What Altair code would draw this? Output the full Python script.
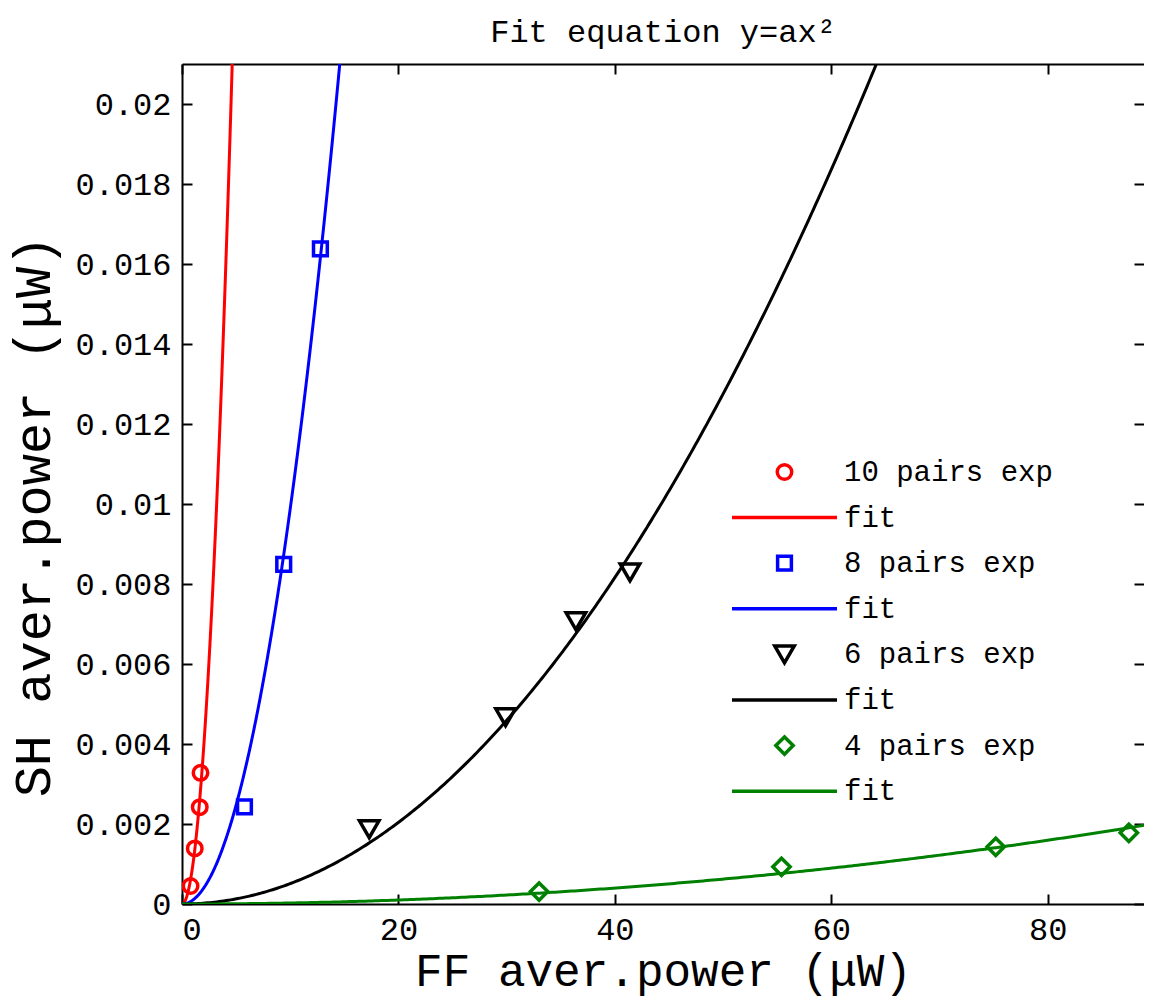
import altair as alt
import numpy as np
import pandas as pd

# ---- data ----
exp_names = ["10 pairs exp", "8 pairs exp", "6 pairs exp", "4 pairs exp"]
fit_names = ["fit", "fit ", "fit  ", "fit   "]  # all shown as "fit" in legend
colors = ["#ff0000", "#0000ff", "#000000", "#008000"]
shapes = ["circle", "square", "triangle-down", "diamond"]

ff_10 = [0.79, 1.18, 1.64, 1.71]
sh_10 = [0.00045, 0.00139, 0.00242, 0.00328]
ff_8 = [5.77, 9.40, 12.79]
sh_8 = [0.00243, 0.00849, 0.01638]
ff_6 = [17.3, 29.9, 36.4, 41.4]
sh_6 = [0.00187, 0.00467, 0.00707, 0.00829]
ff_4 = [33.0, 55.4, 75.2, 87.5]
sh_4 = [0.00031, 0.00093, 0.00143, 0.00178]

# fitted coefficients a of y = a x^2
fit_a = [9.75e-4, 9.88e-5, 5.10e-6, 2.49e-7]

x_ticks = [0, 20, 40, 60, 80]
y_ticks = [0, 0.002, 0.004, 0.006, 0.008, 0.01, 0.012, 0.014, 0.016, 0.018, 0.02]
x_max = 88.9
y_max = 0.021

# ---- tables ----
pts = []
for name, xs, ys in zip(exp_names, [ff_10, ff_8, ff_6, ff_4], [sh_10, sh_8, sh_6, sh_4]):
    for xv, yv in zip(xs, ys):
        pts.append({"series": name, "ff": xv, "sh": yv})
pts_df = pd.DataFrame(pts)

fits = []
for name, a in zip(fit_names, fit_a):
    xe = min(np.sqrt(y_max / a), x_max)
    for xv in np.linspace(0, xe, 300):
        fits.append({"series": name, "ff": float(xv), "sh": float(a * xv * xv)})
fit_df = pd.DataFrame(fits)

legend_domain = []
color_range = []
shape_range = []
size_range = []
LINE = "M-1,0L1,0"
sym_sizes = [210, 190, 380, 300]
for i in range(4):
    legend_domain += [exp_names[i], fit_names[i]]
    color_range += [colors[i], colors[i]]
    shape_range += [shapes[i], LINE]
    size_range += [sym_sizes[i], 11025]

FONT = "Liberation Mono"
inward = {"expr": "-10"}

x_scale = alt.Scale(domain=[0, x_max], nice=False, zero=False)
y_scale = alt.Scale(domain=[0, y_max], nice=False, zero=False)
color_scale = alt.Scale(domain=legend_domain, range=color_range)
shape_scale = alt.Scale(type="ordinal", domain=legend_domain, range=shape_range)
size_scale = alt.Scale(type="ordinal", domain=legend_domain, range=size_range)

legend = alt.Legend(
    title=None, orient="none", legendX=548, legendY=393,
    clipHeight=30, rowPadding=15.6, padding=0,
    labelFont=FONT, labelFontSize=29, labelColor="black", labelOffset=5,
    labelLimit=0, symbolStrokeWidth=3.5, symbolOffset=0,
)

x_axis_main = alt.Axis(
    orient="bottom", values=x_ticks, tickSize=inward, labelPadding=20, grid=False,
    title="FF aver.power (μW)", titleFontSize=46, titleFont=FONT,
    titleFontWeight="normal", titleBaseline="alphabetic", titleY=81,
    labelFontSize=32,
)
y_axis_main = alt.Axis(
    orient="left", values=y_ticks, format=".3~f", tickSize=inward, labelPadding=21, grid=False,
    title="SH aver.power (μW)", titleFontSize=52, titleFont=FONT,
    titleFontWeight="normal", titleBaseline="alphabetic", titleX=-133, titleY=452,
    labelFontSize=32,
)
x_axis_top = alt.Axis(orient="top", values=x_ticks, tickSize=inward, labels=False,
                      title=None, grid=False)
y_axis_right = alt.Axis(orient="right", values=y_ticks, tickSize=inward, labels=False,
                        title=None, grid=False, domain=False)

lines = alt.Chart(fit_df).mark_line(strokeWidth=3, clip=True).encode(
    x=alt.X("ff:Q", scale=x_scale, axis=x_axis_main),
    y=alt.Y("sh:Q", scale=y_scale, axis=y_axis_main),
    color=alt.Color("series:N", scale=color_scale, legend=legend),
    detail="series:N",
)

points = alt.Chart(pts_df).mark_point(filled=False, strokeWidth=3.5, opacity=1, clip=True).encode(
    x=alt.X("ff:Q", scale=x_scale, axis=x_axis_top),
    y=alt.Y("sh:Q", scale=y_scale, axis=y_axis_right),
    color=alt.Color("series:N", scale=color_scale, legend=legend),
    shape=alt.Shape("series:N", scale=shape_scale, legend=legend),
    size=alt.Size("series:N", scale=size_scale, legend=legend),
)

chart = alt.layer(lines, points).properties(
    width=962, height=840,
    background="white",
    title=alt.Title("Fit equation y=ax²", font=FONT, fontSize=32, fontWeight="normal",
                    baseline="alphabetic", offset={"expr": "-11"}, anchor="middle",
                    frame="group", color="black"),
    autosize=alt.AutoSizeParams(type="none"),
    padding={"left": 174, "top": 56, "right": 0, "bottom": 95},
).configure_view(stroke=None).configure_axis(
    grid=False, domainColor="black", domainWidth=2, tickColor="black", tickWidth=2,
    labelFont=FONT, labelColor="black", titleColor="black",
)

chart.save("out.html", embed_options={"renderer": "svg", "actions": False})
